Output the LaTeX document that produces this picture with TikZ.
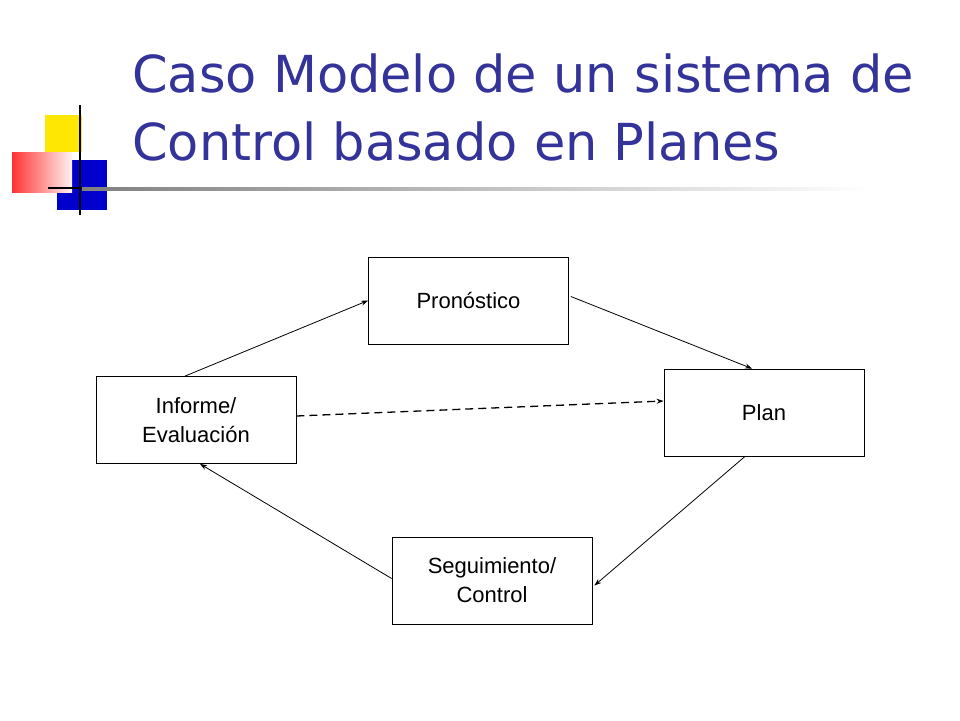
\documentclass[tikz,border=0pt]{standalone}
\usepackage{fontspec}
\setmainfont{Liberation Sans}
\newfontfamily\titlefont{DejaVu Sans}
\usetikzlibrary{arrows.meta}
\definecolor{titleblue}{RGB}{51,51,153}
\tikzset{box/.style={draw,line width=0.8pt,minimum width=200pt,minimum height=87pt,align=center,font=\fontsize{22}{29}\selectfont},
conn/.style={-{Stealth[length=7pt,width=5pt]},line width=0.8pt}}
\begin{document}
\begin{tikzpicture}[x=1pt,y=-1pt]
\useasboundingbox (0,0) rectangle (960,720);
% logo
\fill[yellow!90!orange] (45,115) rectangle (82,152);
\fill[blue!80!black] (57,160) rectangle (107,210);
\shade[left color=red!80,right color=red!5] (12,152) rectangle (72,192);
\draw[line width=1.5pt] (80,105) -- (80,215);
\draw[line width=1.5pt] (48,188) -- (82,188);
\shade[left color=gray,right color=white] (82,187) rectangle (870,190);
% title
\node[anchor=base west,text=titleblue,font=\titlefont\fontsize{51}{60}\selectfont,inner sep=0] (t1) at (132,92) {Caso Modelo de un sistema de};
\node[anchor=base west,text=titleblue,font=\titlefont\fontsize{51}{60}\selectfont,inner sep=0] (t2) at (132,160) {Control basado en Planes};
% boxes
\node[box] (p) at (468.5,300.5) {Pronóstico};
\node[box] (pl) at (764,412.5) {Plan};
\node[box] (i) at (196,420) {Informe/\\Evaluación};
\node[box] (s) at (492,580.5) {Seguimiento/\\Control};
\draw[conn] (i.north) ++(-11,0) coordinate (a1) -- (p.west);
\draw[conn] (p.east) ++(2,-4) coordinate (a2) -- ([xshift=-12pt]pl.north);
\draw[conn] ([xshift=-19pt]pl.south) -- ([xshift=2pt,yshift=-5pt]s.east);
\draw[conn] ([yshift=2pt]s.west) -- ([xshift=4pt]i.south);
\draw[conn,line width=1.3pt,dash pattern=on 8pt off 5pt] ([yshift=4pt]i.east) -- ([yshift=11.5pt]pl.west);
\end{tikzpicture}
\end{document}
